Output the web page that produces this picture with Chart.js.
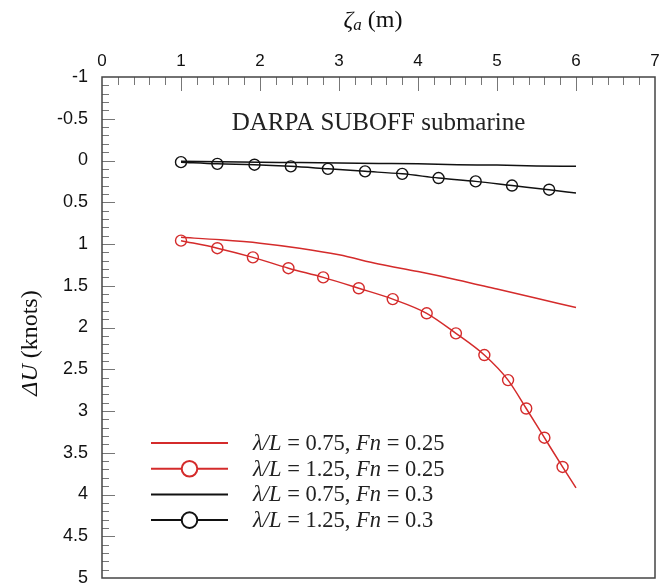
<!DOCTYPE html>
<html>
<head>
<meta charset="utf-8">
<script src="https://cdn.jsdelivr.net/npm/chart.js@4.4.1/dist/chart.umd.min.js"></script>
<style>
  body { margin: 0; background: #fff; }
  #wrap { width: 671px; height: 588px; }
</style>
</head>
<body>
<div id="wrap"><canvas id="myChart" width="671" height="588"></canvas></div>
<script>
// values
const zetaLine = [1, 1.5, 2, 2.5, 3, 3.5, 4, 4.5, 5, 5.5, 6];
const dURed075 = [0.92, 0.95, 0.99, 1.05, 1.13, 1.24, 1.33, 1.43, 1.54, 1.65, 1.76];
const dUBlack075 = [0.01, 0.015, 0.02, 0.025, 0.03, 0.035, 0.04, 0.05, 0.055, 0.065, 0.07];

const zetaRed125 = [1.0, 1.46, 1.91, 2.36, 2.8, 3.25, 3.68, 4.11, 4.48, 4.84, 5.14, 5.37, 5.6, 5.83, 6.0];
const dURed125 = [0.96, 1.05, 1.16, 1.29, 1.40, 1.53, 1.66, 1.83, 2.07, 2.33, 2.63, 2.97, 3.32, 3.67, 3.92];

const zetaBlack125 = [1.0, 1.46, 1.93, 2.39, 2.86, 3.33, 3.8, 4.26, 4.73, 5.19, 5.66, 6.0];
const dUBlack125 = [0.02, 0.04, 0.05, 0.07, 0.10, 0.13, 0.16, 0.21, 0.25, 0.30, 0.35, 0.39];

const xTicks = [0, 1, 2, 3, 4, 5, 6, 7];
const yTicks = [-1, -0.5, 0, 0.5, 1, 1.5, 2, 2.5, 3, 3.5, 4, 4.5, 5];

const seriesLabels = [
  ["0.75", "0.25"],
  ["1.25", "0.25"],
  ["0.75", "0.3"],
  ["1.25", "0.3"]
];

const RED = "#d42b2b";
const BLACK = "#111111";
const SERIF = "'Liberation Serif', 'Times New Roman', serif";
const SANS = "'Liberation Sans', Arial, sans-serif";

const toXY = (xs, ys) => xs.map((x, i) => ({ x: x, y: ys[i] }));

// draws a run of text pieces with their own fonts
const richText = (ctx, parts, x, y, align) => {
  let w = 0;
  parts.forEach(p => { ctx.font = p.font; w += ctx.measureText(p.text).width; });
  let cx = align === "center" ? x - w / 2 : x;
  parts.forEach(p => {
    ctx.font = p.font;
    ctx.fillText(p.text, cx, y + (p.dy || 0));
    cx += ctx.measureText(p.text).width;
  });
};

const decorPlugin = {
  id: "decor",
  afterDraw(chart) {
    const ctx = chart.ctx;
    const area = chart.chartArea;
    const xs = chart.scales.x;
    const ys = chart.scales.y;
    ctx.save();

    // inward tick marks
    ctx.strokeStyle = "#777";
    ctx.lineWidth = 1;
    ctx.beginPath();
    for (let i = 1; i < 35; i++) {
      const v = i * 0.2;
      const px = Math.round(xs.getPixelForValue(v)) + 0.5;
      const len = i % 5 === 0 ? 14 : 8;
      ctx.moveTo(px, area.top);
      ctx.lineTo(px, area.top + len);
    }
    for (let i = 1; i < 60; i++) {
      const v = -1 + i * 0.1;
      const py = Math.round(ys.getPixelForValue(v)) + 0.5;
      const len = i % 5 === 0 ? 13 : 7;
      ctx.moveTo(area.left, py);
      ctx.lineTo(area.left + len, py);
    }
    ctx.stroke();

    // frame
    ctx.strokeStyle = "#444";
    ctx.lineWidth = 1.5;
    ctx.strokeRect(area.left, area.top, area.right - area.left, area.bottom - area.top);

    // axis titles
    ctx.fillStyle = "#111";
    ctx.textBaseline = "alphabetic";
    richText(ctx, [
      { text: "ζ", font: "italic 24px " + SERIF },
      { text: "a", font: "italic 17px " + SERIF, dy: 3 },
      { text: " (m)", font: "24px " + SERIF }
    ], 373, 27, "center");

    ctx.save();
    ctx.translate(37, 343);
    ctx.rotate(-Math.PI / 2);
    richText(ctx, [
      { text: "ΔU", font: "italic 24px " + SERIF },
      { text: " (knots)", font: "24px " + SERIF }
    ], 0, 0, "center");
    ctx.restore();

    // caption inside the plot
    ctx.fillStyle = "#222";
    richText(ctx, [{ text: "DARPA SUBOFF submarine", font: "25px " + SERIF }],
      xs.getPixelForValue(3.5), ys.getPixelForValue(-0.37), "center");

    // legend
    const lx1 = area.left + 49, lx2 = area.left + 126, tx = area.left + 151;
    chart.data.datasets.forEach((ds, i) => {
      const yy = area.top + 366 + i * 25.7;
      ctx.strokeStyle = ds.borderColor;
      ctx.lineWidth = 2;
      ctx.beginPath();
      ctx.moveTo(lx1, yy);
      ctx.lineTo(lx2, yy);
      ctx.stroke();
      if (ds.markers) {
        ctx.fillStyle = "#fff";
        ctx.lineWidth = 2;
        ctx.beginPath();
        ctx.arc((lx1 + lx2) / 2, yy, 7.8, 0, Math.PI * 2);
        ctx.fill();
        ctx.stroke();
      }
      ctx.fillStyle = "#222";
      const lab = seriesLabels[i];
      richText(ctx, [
        { text: "λ/L", font: "italic 22.5px " + SERIF },
        { text: " = " + lab[0] + ", ", font: "22.5px " + SERIF },
        { text: "Fn", font: "italic 22.5px " + SERIF },
        { text: " = " + lab[1], font: "22.5px " + SERIF }
      ], tx, yy + 7, "left");
    });

    ctx.restore();
  }
};

const markerRadius = (ctx) => ctx.dataIndex === ctx.dataset.data.length - 1 ? 0 : 5.5;

const ctx = document.getElementById("myChart").getContext("2d");
const myChart = new Chart(ctx, {
  type: "line",
  data: {
    datasets: [
      {
        label: "λ/L = 0.75, Fn = 0.25",
        data: toXY(zetaLine, dURed075),
        borderColor: RED,
        borderWidth: 1.5,
        pointRadius: 0,
        cubicInterpolationMode: "monotone"
      },
      {
        label: "λ/L = 1.25, Fn = 0.25",
        data: toXY(zetaRed125, dURed125),
        markers: true,
        borderColor: RED,
        borderWidth: 1.5,
        pointStyle: "circle",
        pointRadius: markerRadius,
        pointBorderWidth: 1.4,
        pointBorderColor: RED,
        pointBackgroundColor: "rgba(0,0,0,0)",
        cubicInterpolationMode: "monotone"
      },
      {
        label: "λ/L = 0.75, Fn = 0.3",
        data: toXY(zetaLine, dUBlack075),
        borderColor: BLACK,
        borderWidth: 1.5,
        pointRadius: 0,
        cubicInterpolationMode: "monotone"
      },
      {
        label: "λ/L = 1.25, Fn = 0.3",
        data: toXY(zetaBlack125, dUBlack125),
        markers: true,
        borderColor: BLACK,
        borderWidth: 1.5,
        pointStyle: "circle",
        pointRadius: markerRadius,
        pointBorderWidth: 1.4,
        pointBorderColor: BLACK,
        pointBackgroundColor: "rgba(0,0,0,0)",
        cubicInterpolationMode: "monotone"
      }
    ]
  },
  options: {
    responsive: false,
    animation: false,
    events: [],
    layout: { padding: { left: 0, right: 16, top: 0, bottom: 10 } },
    plugins: {
      legend: { display: false },
      tooltip: { enabled: false },
      title: { display: false }
    },
    scales: {
      x: {
        type: "linear",
        position: "top",
        min: 0,
        max: 7,
        afterBuildTicks: (scale) => { scale.ticks = xTicks.map(v => ({ value: v })); },
        afterFit: (scale) => { scale.height = 77; },
        ticks: { padding: 5, color: "#111", font: { family: SANS, size: 17 }, callback: (v) => String(v) },
        grid: { display: false, drawTicks: false },
        border: { display: false }
      },
      y: {
        type: "linear",
        reverse: true,
        min: -1,
        max: 5,
        afterBuildTicks: (scale) => { scale.ticks = yTicks.map(v => ({ value: v })); },
        afterFit: (scale) => {
          scale.width = 102;
          scale.paddingTop = 0;
          scale.paddingBottom = 0;
        },
        ticks: { padding: 14, color: "#111", font: { family: SANS, size: 18 }, callback: (v) => String(v) },
        grid: { display: false, drawTicks: false },
        border: { display: false }
      }
    }
  },
  plugins: [decorPlugin]
});
</script>
</body>
</html>
